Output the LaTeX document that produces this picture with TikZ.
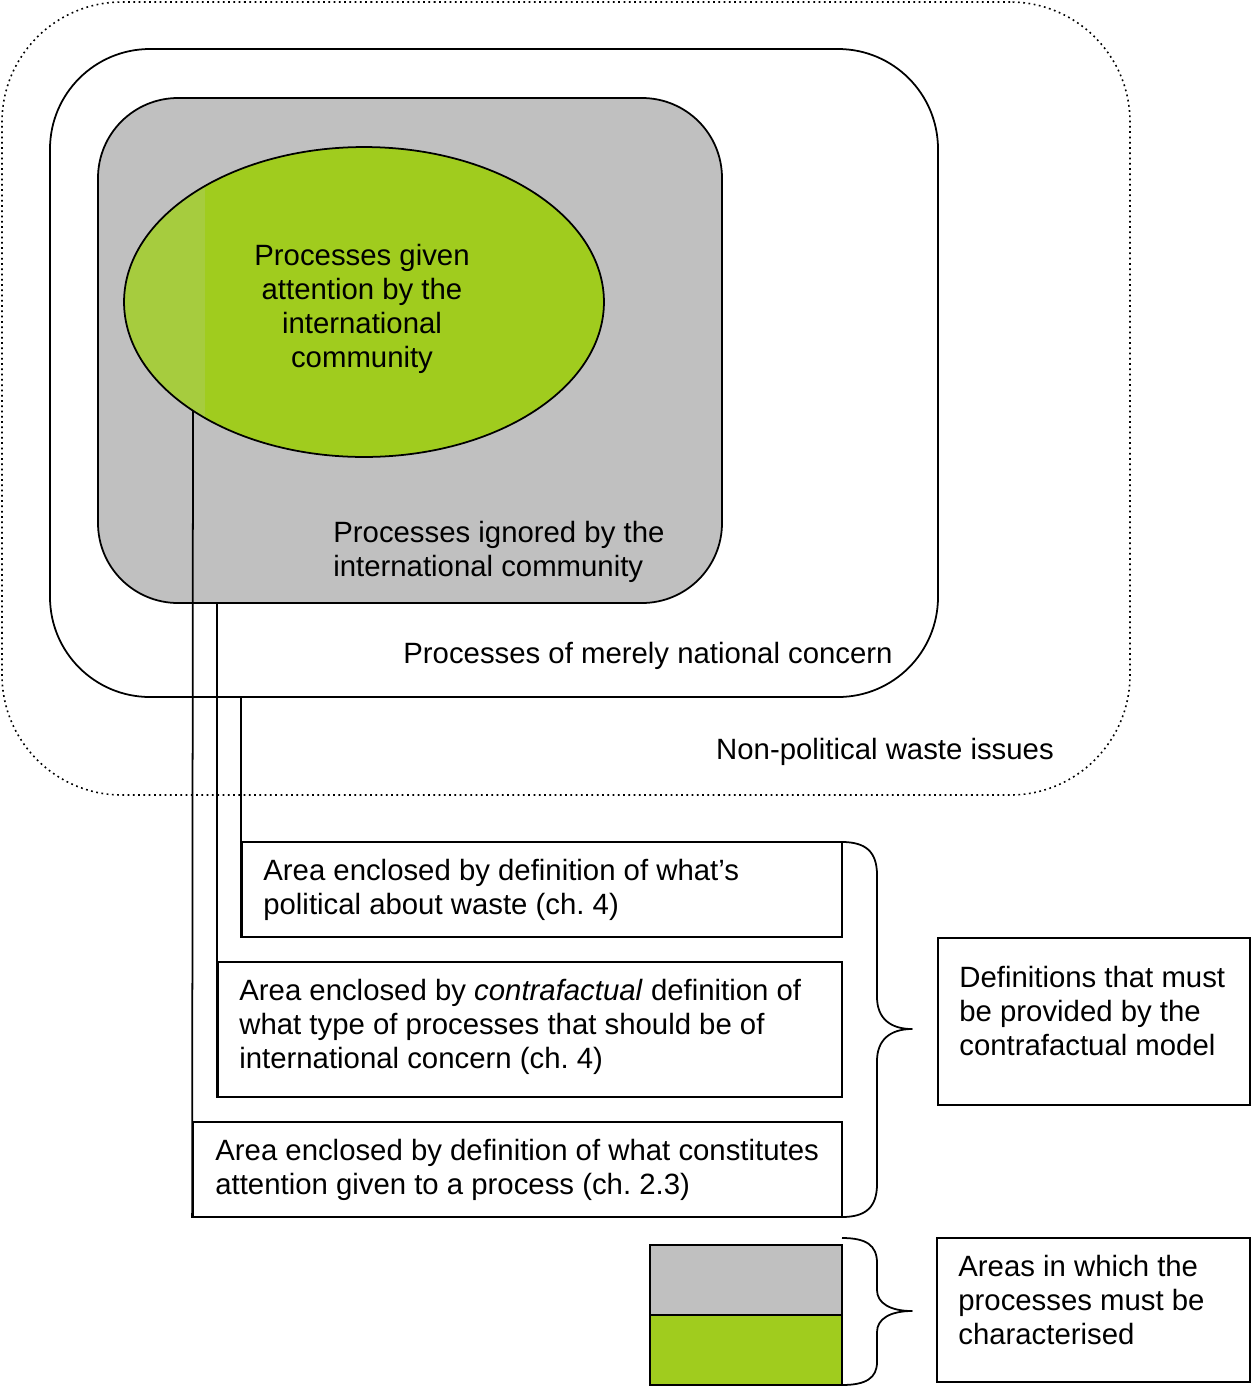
\documentclass[tikz,border=0pt]{standalone}
\usepackage{fontspec}
\setmainfont{Liberation Sans}
\usetikzlibrary{shapes.geometric,fit}
\definecolor{regiongrey}{RGB}{192,192,192}
\definecolor{attgreen}{RGB}{160,204,30}
\definecolor{attstrip}{RGB}{166,204,62}
\frenchspacing
\begin{document}
\begin{tikzpicture}[x=0.02cm,y=-0.02cm,
  every node/.style={font=\fontsize{16.7}{19.3}\selectfont},
  lw/.style={line width=1pt},
  region/.style={lw, draw, inner sep=0pt},
  label/.style={inner sep=0pt, align=left},
  boxtext/.style={label, anchor=west},
  frame/.style={lw, draw, inner sep=0pt},
  bracepath/.style={lw, line join=round}]
\useasboundingbox (0,0) rectangle (1252,1387);

% nested regions
\node[region, dotted, line width=0.9pt, rounded corners=2.4cm, fit={(2,2) (1130,795)}] (nonpol) {};
\node[region, rounded corners=2cm, fit={(50,49) (938,697)}] (nat) {};
\node[region, fill=regiongrey, rounded corners=1.6cm, fit={(98,98) (722,603)}] (ign) {};

% processes given attention
\node[ellipse, fill=attgreen, inner sep=0pt, minimum width=9.6cm, minimum height=6.2cm] (attfill) at (364,302) {};
\begin{scope}
  \clip (364,302) ellipse [x radius=4.8cm, y radius=3.1cm];
  \fill[attstrip] (120,140) rectangle (205,460);
\end{scope}
\node[ellipse, lw, draw, inner sep=0pt, minimum width=9.6cm, minimum height=6.2cm] (att) at (364,302) {};
\node[label, align=center] (attlabel) at (362,309)
  {Processes given\\attention by the\\international\\community};

% region labels
\node[boxtext] (ignlabel) at (333,552) {Processes ignored by the\\international community};
\node[label] (natlabel) at (648,656) {Processes of merely national concern};
\node[label] (nonpollabel) at (885,752) {Non-political waste issues};

% definition boxes
\node[frame, fit={(242,842) (842,937)}] (box1) {};
\node[boxtext] (box1text) at (263,890)
  {Area enclosed by definition of what’s\\political about waste (ch. 4)};
\node[frame, fit={(218,962) (842,1097)}] (box2) {};
\node[boxtext] (box2text) at (239,1027)
  {Area enclosed by \textit{contrafactual} definition of\\what type of processes that should be of\\international concern (ch. 4)};
\node[frame, fit={(193,1122) (842,1217)}] (box3) {};
\node[boxtext] (box3text) at (215,1170)
  {Area enclosed by definition of what constitutes\\attention given to a process (ch. 2.3)};

% connectors from the regions to their definitions
\coordinate (attfoot) at (193,410);
\draw[lw] (attfoot) -- (box3.south west);
\draw[lw] (box2.south west |- ign.south) -- (box2.south west);
\draw[lw] (box1.south west |- nat.south) -- (box1.south west);

% brace grouping the definitions
\coordinate (b1top) at (842,842);
\coordinate (b1tip) at (912,1029);
\coordinate (b1bot) at (842,1217);
\draw[bracepath] (b1top) .. controls (866,842) and (877,852) .. (877,875)
  -- (877,997) .. controls (877,1018) and (890,1029) .. (b1tip)
  .. controls (890,1029) and (877,1040) .. (877,1061)
  -- (877,1184) .. controls (877,1207) and (866,1217) .. (b1bot);

\node[frame, fit={(938,938) (1250,1105)}] (defs) {};
\node[boxtext] (defstext) at (959,1011)
  {Definitions that must\\be provided by the\\contrafactual model};

% legend swatches
\node[frame, fill=regiongrey, fit={(650,1245) (842,1315)}] (leggrey) {};
\node[frame, fill=attgreen, fit={(650,1315) (842,1385)}] (leggreen) {};

\coordinate (b2top) at (842,1238);
\coordinate (b2tip) at (912,1311);
\coordinate (b2bot) at (842,1385);
\draw[bracepath] (b2top) .. controls (866,1238) and (877,1245) .. (877,1263)
  -- (877,1290) .. controls (877,1303) and (890,1311) .. (b2tip)
  .. controls (890,1311) and (877,1319) .. (877,1332)
  -- (877,1362) .. controls (877,1378) and (866,1385) .. (b2bot);

\node[frame, fit={(937,1238) (1250,1382)}] (areas) {};
\node[boxtext] (areastext) at (958,1300)
  {Areas in which the\\processes must be\\characterised};
\end{tikzpicture}
\end{document}
